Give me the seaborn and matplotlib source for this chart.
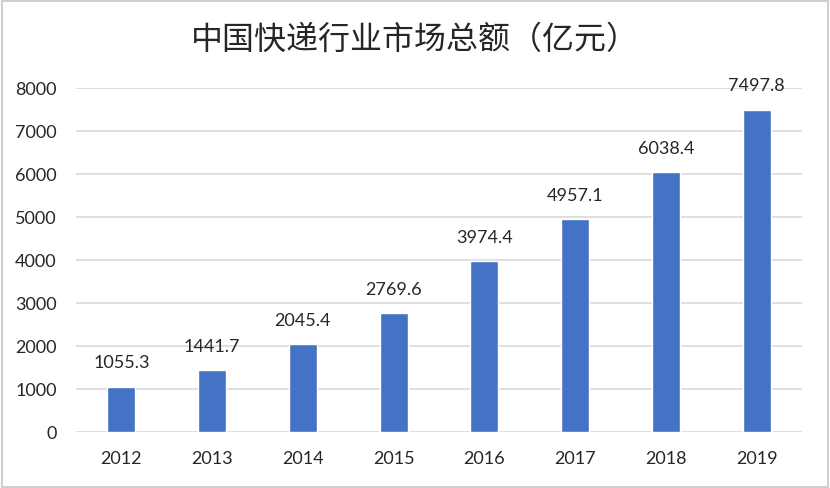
import matplotlib
matplotlib.use('Agg')
import matplotlib.pyplot as plt
import seaborn as sns
import pandas as pd
from matplotlib.patches import Rectangle

years = ['2012', '2013', '2014', '2015', '2016', '2017', '2018', '2019']
totals = [1055.3, 1441.7, 2045.4, 2769.6, 3974.4, 4957.1, 6038.4, 7497.8]
y_ticks = [0, 1000, 2000, 3000, 4000, 5000, 6000, 7000, 8000]
title = '中国快递行业市场总额（亿元）'

df = pd.DataFrame({'year': years, 'total': totals})

sns.set_theme(style='white')
plt.rcParams['font.family'] = ['Lato', 'Noto Sans CJK SC', 'DejaVu Sans']

fig = plt.figure(figsize=(8.3, 4.89), dpi=100)
ax = fig.add_axes([76 / 830, 1 - 433 / 489, 726 / 830, 344 / 489])

sns.barplot(data=df, x='year', y='total', color='#4472C4', width=0.31,
            saturation=1, ax=ax, zorder=3)

ax.set_ylim(0, 8000)
ax.set_xlim(-0.5, len(years) - 0.5)
ax.set_yticks(y_ticks)
ax.set_yticklabels([str(t) for t in y_ticks])
ax.grid(axis='y', color='#d9d9d9', linewidth=1.2, zorder=0)
ax.set_axisbelow(True)
for s in ax.spines.values():
    s.set_visible(False)
ax.set_xlabel('')
ax.set_ylabel('')
ax.tick_params(axis='both', length=0, labelsize=13, colors='#262626')
ax.tick_params(axis='x', pad=13)
ax.tick_params(axis='y', pad=14)

# value labels, centred ~24px above each bar
for i, v in enumerate(totals):
    ax.annotate(f'{v:.1f}', (i, v), xytext=(0, 17.5), textcoords='offset points',
                ha='center', va='center', fontsize=13, color='#262626')

fig.text(0.5, 1 - 40 / 489, title, ha='center', va='center', fontsize=23,
         color='#262626', family=['Noto Sans CJK SC', 'DejaVu Sans'])

fig.patches.append(Rectangle((0.002, 0.003), 0.995, 0.993, transform=fig.transFigure,
                             fill=False, edgecolor='#d0d0d0', linewidth=1.5))

fig.savefig('out.png', dpi=100)
